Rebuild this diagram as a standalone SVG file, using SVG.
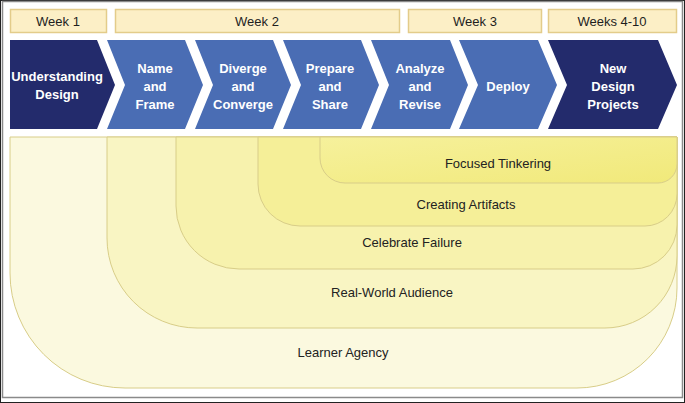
<svg xmlns="http://www.w3.org/2000/svg" width="685" height="403" viewBox="0 0 685 403">
<style>
.wk{fill:#fcefc6;stroke:#e3cc8a;stroke-width:1.5}
.wt{font-family:"Liberation Sans",Arial,sans-serif;font-size:13px;fill:#1e1e1e;text-anchor:middle}
.dk{fill:#232b6c}
.md{fill:#4a6db4}
.ct{font-family:"Liberation Sans",Arial,sans-serif;font-size:13px;font-weight:bold;fill:#ffffff;text-anchor:middle}
.ly{stroke:#d8cd88;stroke-width:1}
.lt{font-family:"Liberation Sans",Arial,sans-serif;font-size:13px;fill:#222;text-anchor:middle}
</style>
<defs>
<linearGradient id="gft" x1="0" y1="0" x2="1" y2="1">
<stop offset="0" stop-color="#f6f19c"/>
<stop offset="1" stop-color="#f1e97a"/>
</linearGradient>
</defs>
<rect x="0" y="0" width="685" height="403" fill="#ffffff"/>
<rect x="0.5" y="0.5" width="684" height="402" fill="none" stroke="#222" stroke-width="1"/>
<rect x="2.5" y="1.5" width="680" height="396" fill="none" stroke="#8a8a8a" stroke-width="1.5"/>

<g id="week1"><rect class="wk" x="10.5" y="9.5" width="96" height="23"/><text class="wt" x="58" y="26">Week 1</text></g>
<g id="week2"><rect class="wk" x="115.5" y="9.5" width="284" height="23"/><text class="wt" x="257" y="26">Week 2</text></g>
<g id="week3"><rect class="wk" x="408.5" y="9.5" width="133" height="23"/><text class="wt" x="475" y="26">Week 3</text></g>
<g id="week4"><rect class="wk" x="548.5" y="9.5" width="128" height="23"/><text class="wt" x="612" y="26">Weeks 4-10</text></g>

<g id="understanding"><polygon class="dk" points="10,40 97,40 115,85 97,129 10,129"/><text class="ct" x="57" y="81">Understanding</text><text class="ct" x="57" y="99">Design</text></g>
<g id="name"><polygon class="md" points="107,40 185,40 203,85 185,129 107,129 125,85"/><text class="ct" x="155" y="73">Name</text><text class="ct" x="155" y="91">and</text><text class="ct" x="155" y="109">Frame</text></g>
<g id="diverge"><polygon class="md" points="195,40 273,40 291,85 273,129 195,129 213,85"/><text class="ct" x="243" y="73">Diverge</text><text class="ct" x="243" y="91">and</text><text class="ct" x="243" y="109">Converge</text></g>
<g id="prepare"><polygon class="md" points="283,40 361,40 379,85 361,129 283,129 301,85"/><text class="ct" x="330" y="73">Prepare</text><text class="ct" x="330" y="91">and</text><text class="ct" x="330" y="109">Share</text></g>
<g id="analyze"><polygon class="md" points="371,40 450,40 468,85 450,129 371,129 389,85"/><text class="ct" x="420" y="73">Analyze</text><text class="ct" x="420" y="91">and</text><text class="ct" x="420" y="109">Revise</text></g>
<g id="deploy"><polygon class="md" points="459,40 538,40 557,85 538,129 459,129 478,85"/><text class="ct" x="508" y="91">Deploy</text></g>
<g id="newdesign"><polygon class="dk" points="548,40 658,40 677,85 658,129 548,129 567,85"/><text class="ct" x="613" y="73">New</text><text class="ct" x="613" y="91">Design</text><text class="ct" x="613" y="109">Projects</text></g>

<g id="learner-agency"><path class="ly" fill="#fbf9df" stroke="#e2d9a4" d="M10,137 H677 V288 A100,100 0 0 1 577,388 H125 A115,115 0 0 1 10,273 Z"/><text class="lt" x="343" y="357">Learner Agency</text></g>
<g id="real-world"><path class="ly" fill="#f9f5c3" d="M107,137 H677 V256 A72,72 0 0 1 605,328 H197 A90,90 0 0 1 107,238 Z"/><text class="lt" x="392" y="297">Real-World Audience</text></g>
<g id="celebrate"><path class="ly" fill="#f7f2ad" d="M176,137 H677 V225 A44,44 0 0 1 633,269 H239 A63,63 0 0 1 176,206 Z"/><text class="lt" x="412" y="247">Celebrate Failure</text></g>
<g id="creating"><path class="ly" fill="#f5ef98" d="M258,137 H677 V194 A32,32 0 0 1 645,226 H300 A42,42 0 0 1 258,184 Z"/><text class="lt" x="466" y="209">Creating Artifacts</text></g>
<g id="focused"><path class="ly" fill="url(#gft)" d="M320,137 H677 V164 A19,19 0 0 1 658,183 H345 A25,25 0 0 1 320,158 Z"/><text class="lt" x="498" y="168">Focused Tinkering</text></g>
</svg>
